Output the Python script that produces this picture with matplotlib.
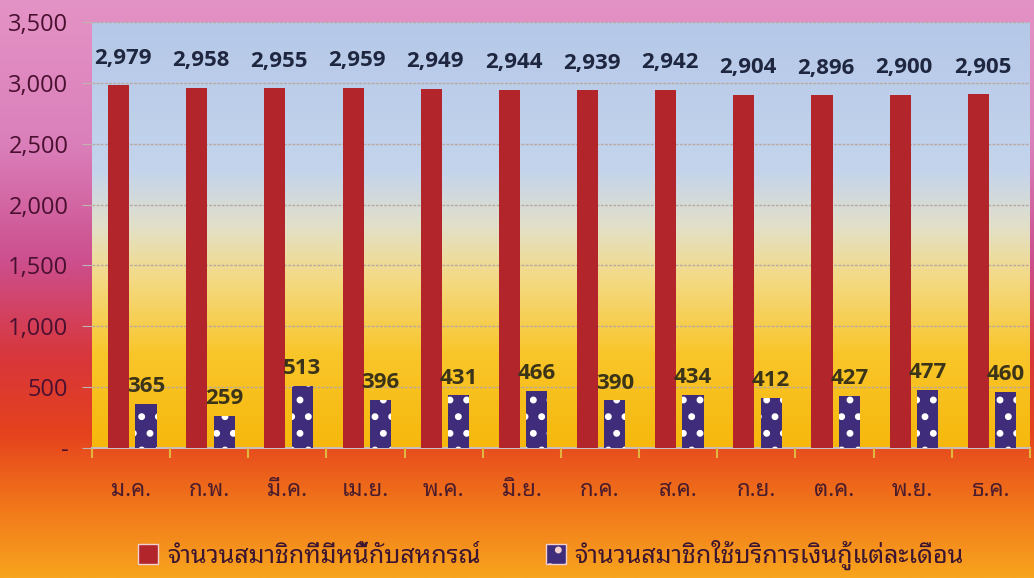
import matplotlib
matplotlib.use("Agg")
import numpy as np
import matplotlib.pyplot as plt
from matplotlib.colors import LinearSegmentedColormap
from matplotlib.ticker import FuncFormatter, FixedLocator

plt.rcParams['font.family'] = ['Noto Sans Thai Looped', 'Noto Sans', 'DejaVu Sans']

# data
months = ['ม.ค.', 'ก.พ.', 'มี.ค.', 'เม.ย.', 'พ.ค.', 'มิ.ย.',
          'ก.ค.', 'ส.ค.', 'ก.ย.', 'ต.ค.', 'พ.ย.', 'ธ.ค.']
members_debt = [2979, 2958, 2955, 2959, 2949, 2944, 2939, 2942, 2904, 2896, 2900, 2905]
members_loan = [365, 259, 513, 396, 431, 466, 390, 434, 412, 427, 477, 460]
label_debt = 'จำนวนสมาชิกที่มีหนี้กับสหกรณ์'
label_loan = 'จำนวนสมาชิกใช้บริการเงินกู้แต่ละเดือน'

num_font = 'Open Sans'

fig = plt.figure(figsize=(10.34, 5.78), dpi=100)

# page background gradient (pink -> magenta -> red -> orange)
bg = fig.add_axes([0, 0, 1, 1], zorder=-10)
bg_cmap = LinearSegmentedColormap.from_list('page', [
    (0.00, '#e493c6'), (0.25, '#da7fba'), (0.45, '#cc4f8e'),
    (0.62, '#d8363a'), (0.75, '#e5421e'), (0.86, '#f0701a'), (1.00, '#f8a41e')])
bg.imshow(np.linspace(0, 1, 256).reshape(-1, 1), aspect='auto', cmap=bg_cmap,
          extent=[0, 1, 0, 1], origin='upper')
bg.axis('off')

ax = fig.add_axes([0.089, 0.225, 0.907, 0.737])
x = np.arange(len(months))
w = 0.27

# plot area gradient (light blue -> pale yellow -> gold)
pa_cmap = LinearSegmentedColormap.from_list('plot', [
    (0.00, '#b5c8e8'), (0.35, '#c4d4ec'), (0.48, '#e2e0c8'),
    (0.60, '#f3da86'), (0.78, '#f9c62a'), (1.00, '#f6b80c')])
ax.imshow(np.linspace(0, 1, 256).reshape(-1, 1), aspect='auto', cmap=pa_cmap,
          extent=[-0.5, 11.5, 0, 3500], origin='upper', zorder=0)

ax.bar(x - 0.16, members_debt, w, color='#b2262b', zorder=3, label=label_debt)
plt.rcParams['hatch.linewidth'] = 2.5
ax.bar(x + 0.19, members_loan, w, color='#3f2d7c', edgecolor='white', linewidth=0,
       hatch='.', zorder=3, label=label_loan)

for xi, v in zip(x, members_debt):
    ax.annotate(f'{v:,}', (xi - 0.16, v), xytext=(3, 12), textcoords='offset points',
                ha='center', va='bottom', fontsize=16, fontweight='bold',
                color='#1f2740', family=num_font)
for xi, v in zip(x, members_loan):
    ax.annotate(f'{v:,}', (xi + 0.19, v), xytext=(0, 5), textcoords='offset points',
                ha='center', va='bottom', fontsize=16, fontweight='bold',
                color='#3b3418', family=num_font)

ax.set_xlim(-0.5, 11.5)
ax.set_ylim(0, 3500)
ax.yaxis.set_major_locator(FixedLocator(np.arange(0, 3501, 500)))
ax.yaxis.set_major_formatter(FuncFormatter(lambda v, p: '-' if v == 0 else f'{v:,.0f}'))
ax.grid(axis='y', color='#b8a9a0', linewidth=1.0, linestyle=(0, (2, 1)), zorder=1)
ax.set_axisbelow(False)

ax.set_xticks(x)
ax.set_xticklabels(months, fontsize=16, color='#4a1c2c')
ax.set_xticks(np.arange(-0.5, 12, 1), minor=True)
ax.tick_params(axis='x', which='major', length=0, pad=23)
ax.tick_params(axis='x', which='minor', length=7, color='#e2b440', width=1.5)
ax.tick_params(axis='y', length=7, color='#c0b4b0', pad=10, labelsize=17,
               labelcolor='#4a1030')
for lab in ax.get_yticklabels():
    lab.set_family(num_font)

for s in ['top', 'right', 'left']:
    ax.spines[s].set_visible(False)
ax.spines['bottom'].set_color('#c8c0c0')
ax.spines['bottom'].set_linewidth(1.5)

leg = fig.legend(loc='lower center', bbox_to_anchor=(0.533, -0.025), ncol=2, frameon=False,
                 fontsize=18, columnspacing=2.6, handlelength=0.8, handleheight=0.9,
                 handletextpad=0.35, labelcolor='#3a1430')
for h in leg.legend_handles:
    h.set_edgecolor('#f0d0d0')
    h.set_linewidth(1.0)

fig.savefig('out.png', dpi=100)
